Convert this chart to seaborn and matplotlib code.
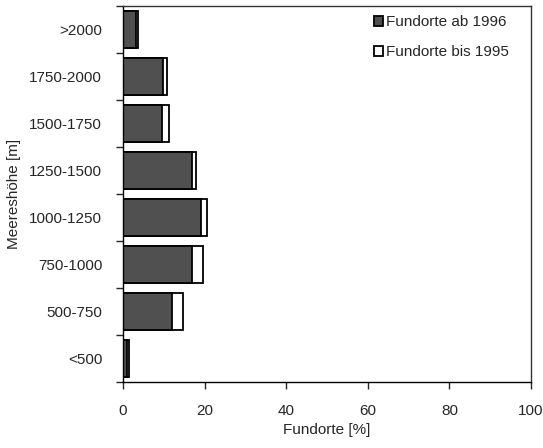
import numpy as np
import pandas as pd
import matplotlib
matplotlib.use('Agg')
import matplotlib.pyplot as plt
import seaborn as sns
from matplotlib.patches import Patch

# Data
hoehe = ['>2000', '1750-2000', '1500-1750', '1250-1500', '1000-1250', '750-1000', '500-750', '<500']
ab_1996 = [3.1, 9.9, 9.5, 17.0, 19.0, 16.8, 12.1, 1.1]
bis_1995 = [0.6, 0.8, 1.8, 0.8, 1.7, 2.7, 2.5, 0.4]

df = pd.DataFrame({'hoehe': hoehe, 'ab': ab_1996, 'bis': bis_1995})
df['gesamt'] = df['ab'] + df['bis']

sns.set_style('ticks')
plt.rcParams['font.family'] = ['Liberation Sans', 'DejaVu Sans']

fig = plt.figure(figsize=(5.43, 4.48), dpi=100)
ax = fig.add_axes([0.2265, 0.147, 0.7515, 0.8395])

# stacked bars: total (white) first, then the dark part on top
sns.barplot(data=df, x='gesamt', y='hoehe', order=hoehe, color='white',
            edgecolor='black', linewidth=1.3, width=0.8, ax=ax, saturation=1)
sns.barplot(data=df, x='ab', y='hoehe', order=hoehe, color='#505050',
            edgecolor='black', linewidth=1.3, width=0.8, ax=ax, saturation=1)

ax.set_xlim(0, 100)
ax.set_ylim(len(hoehe) - 0.5, -0.5)
ax.set_xticks([0, 20, 40, 60, 80, 100])
ax.set_xlabel('Fundorte [%]', fontsize=11, labelpad=3)
ax.set_ylabel('Meereshöhe [m]', fontsize=11)
ax.yaxis.set_label_coords(-0.25, 0.5)

# ticks between the categories, labels centred
ax.set_yticks(np.arange(len(hoehe)))
ax.set_yticklabels(hoehe)
ax.tick_params(axis='y', which='major', length=0, pad=15)
ax.set_yticks(np.arange(len(hoehe) + 1) - 0.5, minor=True)
ax.tick_params(axis='y', which='minor', length=5, width=1)
ax.tick_params(axis='x', length=5, width=1, pad=11)
ax.tick_params(labelsize=11)

for s in ax.spines.values():
    s.set_linewidth(1)
    s.set_color('black')
ax.spines['top'].set_color('#333333')
ax.spines['right'].set_color('#333333')

handles = [Patch(facecolor='#505050', edgecolor='black', linewidth=1.3, label='Fundorte ab 1996'),
           Patch(facecolor='white', edgecolor='black', linewidth=1.3, label='Fundorte bis 1995')]
ax.legend(handles=handles, loc='upper right', frameon=False, fontsize=11,
          handlelength=0.6, handleheight=0.6, handletextpad=0.2, labelspacing=1.05,
          bbox_to_anchor=(0.98, 1.012))

fig.savefig('out.png', dpi=100)
